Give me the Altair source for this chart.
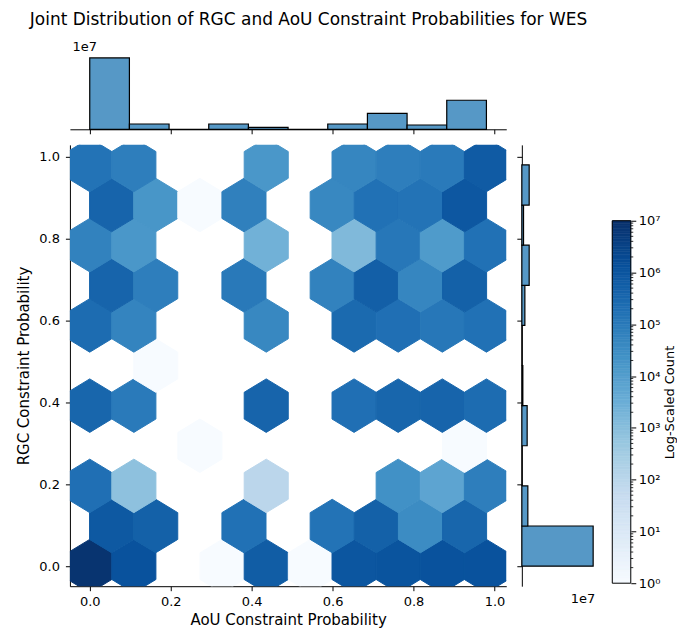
import altair as alt
import pandas as pd

# ---------------- data ----------------
# hexbin cells: centres (AoU x, RGC y) and counts
hex_x = [0.0, 0.109, 0.327, 0.436, 0.545, 0.653, 0.762, 0.871, 0.980,
         0.054, 0.163, 0.381, 0.599, 0.708, 0.817, 0.926,
         0.0, 0.109, 0.436, 0.762, 0.871, 0.980,
         0.272, 0.926,
         0.0, 0.109, 0.436, 0.653, 0.762, 0.871, 0.980,
         0.163,
         0.0, 0.109, 0.436, 0.653, 0.762, 0.871, 0.980,
         0.054, 0.163, 0.381, 0.599, 0.708, 0.817, 0.926,
         0.0, 0.109, 0.436, 0.653, 0.762, 0.871, 0.980,
         0.054, 0.163, 0.272, 0.381, 0.599, 0.708, 0.817, 0.926,
         0.0, 0.109, 0.436, 0.653, 0.762, 0.871, 0.980]
hex_y = [0.0] * 9 + [0.098] * 7 + [0.196] * 6 + [0.294] * 2 + [0.392] * 7 + [0.490] + \
        [0.588] * 7 + [0.686] * 7 + [0.784] * 7 + [0.882] * 8 + [0.980] * 7
hex_count = [8000000, 1260000, 1, 631000, 1, 1000000, 1120000, 1260000, 1260000,
             794000, 501000, 178000, 158000, 501000, 35000, 355000,
             200000, 800, 100, 25000, 6300, 79000,
             1, 1,
             355000, 100000, 398000, 200000, 355000, 398000, 251000,
             1,
             251000, 56000, 45000, 282000, 200000, 126000, 178000,
             398000, 79000, 112000, 63000, 562000, 50000, 501000,
             63000, 16000, 2500, 1400, 126000, 12600, 178000,
             398000, 18000, 1, 71000, 45000, 178000, 158000, 891000,
             158000, 79000, 16000, 50000, 79000, 100000, 708000]

# marginal histograms (bin edges shared by both axes)
bin_lo = [0.0, 0.098, 0.196, 0.294, 0.392, 0.490, 0.588, 0.686, 0.784, 0.882]
bin_hi = [0.098, 0.196, 0.294, 0.392, 0.490, 0.588, 0.686, 0.784, 0.882, 0.980]
aou_counts = [1.0e7, 7.4e5, 0, 7.4e5, 2.8e5, 0, 7.4e5, 2.24e6, 6.0e5, 4.07e6]
rgc_counts = [1.34e7, 1.13e6, 0, 1.0e6, 1.9e5, 0, 5.7e5, 1.38e6, 3.2e5, 1.38e6]

axis_ticks = [0.0, 0.2, 0.4, 0.6, 0.8, 1.0]
cbar_major = [1, 10, 100, 1000, 10000, 100000, 1000000, 10000000]
cbar_minor = [m * 10 ** k for k in range(7) for m in range(2, 10)]
blues = ["#f7fbff", "#deebf7", "#c6dbef", "#9ecae1", "#6baed6",
         "#4292c6", "#2171b5", "#08519c", "#08306b"]
cbar_steps = [10 ** (7 * i / 140) for i in range(141)]

# ---------------- layout constants ----------------
W, H = 437, 442          # joint plot area
MH = 75                  # marginal thickness
CBW = 18.5               # colorbar width
CB_TOP, CB_BOT = 76, 439  # colorbar extent inside its (H tall) cell
DOM = [-0.049, 1.029]
HEX = "M0,-1.214L1,-0.607L1,0.607L0,1.214L-1,0.607L-1,-0.607Z"
HEX_SIZE = 1948
BAR = "#5698c6"
FONT = "DejaVu Sans"

hex_df = pd.DataFrame({"x": hex_x, "y": hex_y, "count": hex_count})
top_df = pd.DataFrame({"lo": bin_lo, "hi": bin_hi, "count": aou_counts, "base": 0.0})
right_df = pd.DataFrame({"lo": bin_lo, "hi": bin_hi, "count": rgc_counts, "base": 0.0})
cb_df = pd.DataFrame({"lo": cbar_steps[:-1], "hi": cbar_steps[1:]})
cb_df["mid"] = (cb_df["lo"] * cb_df["hi"]) ** 0.5
outline_df = pd.DataFrame({"lo": [cbar_major[0]], "hi": [cbar_major[-1]]})
minor_df = pd.DataFrame({"lo": cbar_minor})

color_scale = alt.Scale(type="log", domain=[10 ** (7 * i / 8) for i in range(9)],
                        range=blues, interpolate="rgb", clamp=True, nice=False)
pos_scale = alt.Scale(domain=DOM, nice=False, zero=False)

# ---------------- joint hexbin ----------------
main = alt.Chart(hex_df).mark_point(
    shape=HEX, size=HEX_SIZE, filled=True, opacity=1, strokeWidth=1, clip=True
).encode(
    x=alt.X("x:Q", scale=pos_scale,
            axis=alt.Axis(values=axis_ticks, format=".1f", title="AoU Constraint Probability",
                          tickSize=4.5, labelPadding=5, titlePadding=4)),
    y=alt.Y("y:Q", scale=pos_scale,
            axis=alt.Axis(values=axis_ticks, format=".1f", title="RGC Constraint Probability",
                          tickSize=4.5, labelPadding=6, titlePadding=7)),
    color=alt.Color("count:Q", scale=color_scale, legend=None),
    stroke=alt.Stroke("count:Q", scale=color_scale, legend=None),
).properties(width=W, height=H)

# ---------------- top marginal ----------------
top = alt.Chart(top_df).mark_rect(fill=BAR, stroke="black", strokeWidth=1.2).encode(
    x=alt.X("lo:Q", scale=pos_scale,
            axis=alt.Axis(values=axis_ticks, labels=False, tickSize=4.5, title=None)),
    x2="hi:Q",
    y=alt.Y("count:Q", scale=alt.Scale(domain=[0, 1.05e7], nice=False),
            axis=alt.Axis(labels=False, ticks=False, domain=False, title="1e7",
                          titleAngle=0, titleX=2, titleY=-3.5, titleAlign="left",
                          titleBaseline="alphabetic", titleFontSize=13)),
    y2="base:Q",
).properties(width=W, height=MH)

# ---------------- right marginal ----------------
right = alt.Chart(right_df).mark_rect(fill=BAR, stroke="black", strokeWidth=1.2).encode(
    y=alt.Y("lo:Q", scale=pos_scale,
            axis=alt.Axis(values=axis_ticks, labels=False, tickSize=5, title=None)),
    y2="hi:Q",
    x=alt.X("count:Q", scale=alt.Scale(domain=[0, 1.407e7], nice=False),
            axis=alt.Axis(labels=False, ticks=False, domain=False, title="1e7",
                          titleAngle=0, titleX=73, titleY=16.5, titleAlign="right",
                          titleBaseline="alphabetic", titleFontSize=13)),
    x2="base:Q",
).properties(width=MH, height=H)

# ---------------- colorbar ----------------
cb_scale = alt.Scale(type="log", domain=[cbar_major[0], cbar_major[-1]],
                     range=[CB_BOT, CB_TOP], nice=False)
sup = "['\u2070','\u00b9','\u00b2','\u00b3','\u2074','\u2075','\u2076','\u2077']"
cb_axis = alt.Axis(orient="right", values=cbar_major, tickSize=5, domain=False,
                   labelExpr="'10' + " + sup + "[round(log(datum.value)/LN10)]",
                   labelPadding=2.5, labelBaseline="middle",
                   title="Log-Scaled Count", titleAngle=270, titleBaseline="top",
                   titlePadding=4, titleFontSize=13)
strips = alt.Chart(cb_df).mark_rect(strokeWidth=0.6).encode(
    y=alt.Y("lo:Q", scale=cb_scale, axis=cb_axis),
    y2="hi:Q",
    x=alt.value(0), x2=alt.value(CBW),
    color=alt.Color("mid:Q", scale=color_scale, legend=None),
    stroke=alt.Stroke("mid:Q", scale=color_scale, legend=None),
)
outline = alt.Chart(outline_df).mark_rect(fill="transparent", stroke="black", strokeWidth=1).encode(
    y=alt.Y("lo:Q", scale=cb_scale, axis=cb_axis), y2="hi:Q",
    x=alt.value(0), x2=alt.value(CBW),
)
minor = alt.Chart(minor_df).mark_rule(color="black", strokeWidth=0.8).encode(
    y=alt.Y("lo:Q", scale=cb_scale, axis=cb_axis),
    x=alt.value(CBW), x2=alt.value(CBW + 2.5),
)
cbar = alt.layer(strips, outline, minor).properties(width=CBW, height=H)

# ---------------- blanks for the grid ----------------
blank = alt.Chart(pd.DataFrame({"v": [0]})).mark_point(opacity=0).encode(
    x=alt.X("v:Q", axis=None), y=alt.Y("v:Q", axis=None))
blank1 = blank.properties(width=MH, height=MH)
blank2 = blank.properties(width=CBW, height=MH)

chart = alt.ConcatChart(
    concat=[top, blank1, blank2, main, right, cbar],
    columns=3,
    spacing=alt.RowColnumber(row=15.6, column=15.6),
    bounds="flush",
    align="each",
    title=alt.TitleParams("Joint Distribution of RGC and AoU Constraint Probabilities for WES",
                          anchor="start", frame="bounds", dx=13, offset=12,
                          fontSize=17, fontWeight="normal", font=FONT, color="black"),
    padding={"left": 8, "top": 2, "right": 0, "bottom": 2},
).configure(font=FONT).configure_view(strokeWidth=0).configure_axis(
    labelFont=FONT, titleFont=FONT, labelFontSize=13, titleFontSize=15,
    titleFontWeight="normal", labelColor="black", titleColor="black",
    domainColor="black", tickColor="black", domainWidth=1, tickWidth=1, grid=False,
)

chart.save("out.html", embed_options={"renderer": "svg", "actions": False})
